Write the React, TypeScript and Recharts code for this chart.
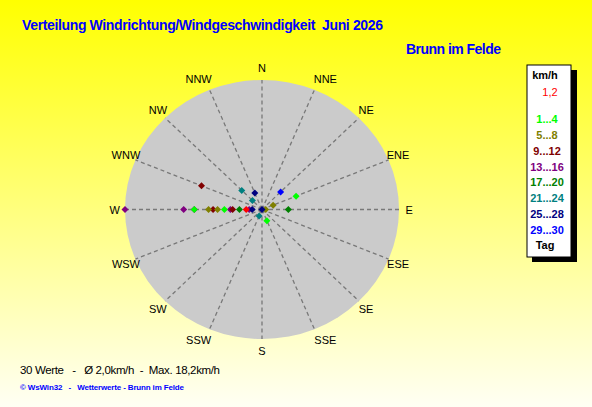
import { ScatterChart, Scatter, XAxis, YAxis, ReferenceArea, ReferenceLine, ReferenceDot } from "recharts";

const DIRS = ["N", "NNE", "NE", "ENE", "E", "ESE", "SE", "SSE", "S", "SSW", "SW", "WSW", "W", "WNW", "NW", "NNW"];
const SPEED_MAX = 18.2;

const LEGEND_LABELS = ["1,2", "1...4", "5...8", "9...12", "13...16", "17...20", "21...24", "25...28", "29...30"];
const LEGEND_COLORS = ["#ff0000", "#00ff00", "#808000", "#800000", "#800080", "#008000", "#008080", "#000080", "#0000ff"];

// direction + speed (km/h) per day group
const DIR_1_2 = ["W"];
const SPD_1_2 = [2.1];
const DIR_1_4 = ["ENE", "W", "W", "SSE"];
const SPD_1_4 = [4.9, 9.0, 5.0, 1.7];
const DIR_5_8 = ["ENE", "W", "W", "E"];
const SPD_5_8 = [1.6, 7.1, 5.9, 0.5];
const DIR_9_12 = ["WNW", "W", "W"];
const SPD_9_12 = [8.7, 6.5, 3.9];
const DIR_13_16 = ["W", "W", "W", "W", "W"];
const SPD_13_16 = [18.2, 10.4, 9.0, 4.2, 1.7];
const DIR_17_20 = ["W", "E"];
const SPD_17_20 = [3.0, 3.5];
const DIR_21_24 = ["NW", "NW", "SSW"];
const SPD_21_24 = [3.8, 1.8, 1.0];
const DIR_25_28 = ["NNW", "W", "N"];
const SPD_25_28 = [2.5, 1.3, 0];
const DIR_29_30 = ["NE"];
const SPD_29_30 = [3.5];

const GROUPS = [
  [DIR_13_16, SPD_13_16],
  [DIR_9_12, SPD_9_12],
  [DIR_5_8, SPD_5_8],
  [DIR_17_20, SPD_17_20],
  [DIR_21_24, SPD_21_24],
  [DIR_25_28, SPD_25_28],
  [DIR_29_30, SPD_29_30],
  [DIR_1_4, SPD_1_4],
  [DIR_1_2, SPD_1_2],
];
const GROUP_COLOR_IDX = [4, 3, 2, 5, 6, 7, 8, 1, 0];

const toXY = (dir: string, s: number) => {
  const a = (DIRS.indexOf(dir) * 22.5 * Math.PI) / 180;
  return { x: s * Math.sin(a), y: s * Math.cos(a) };
};

const Diamond = (color: string) => (p: any) => {
  const { cx, cy } = p;
  return <polygon points={`${cx},${cy - 3.5} ${cx + 3.5},${cy} ${cx},${cy + 3.5} ${cx - 3.5},${cy}`} fill={color} />;
};

const FONT = "'Liberation Sans', Arial, sans-serif";

export default function App() {
  return (
    <div style={{ position: "absolute", left: 0, top: 0, width: 592, height: 407, background: "linear-gradient(#ffff00, #fffff4)" }}>
      <ScatterChart width={592} height={407} margin={{ top: 80, right: 193, bottom: 68, left: 125 }}>
        <XAxis type="number" dataKey="x" domain={[-SPEED_MAX, SPEED_MAX]} hide />
        <YAxis type="number" dataKey="y" domain={[-SPEED_MAX, SPEED_MAX]} hide />
        <ReferenceArea
          x1={-SPEED_MAX}
          x2={SPEED_MAX}
          y1={-SPEED_MAX}
          y2={SPEED_MAX}
          shape={(p: any) => (
            <ellipse cx={p.x + p.width / 2} cy={p.y + p.height / 2} rx={p.width / 2} ry={p.height / 2} fill="#cbcbcb" />
          )}
        />
        {DIRS.map((d) => (
          <ReferenceLine
            key={"l" + d}
            segment={[{ x: 0, y: 0 }, toXY(d, SPEED_MAX)]}
            stroke="#787878"
            strokeWidth={1.3}
            strokeDasharray="4 3"
          />
        ))}
        {DIRS.map((d, i) => {
          const p = toXY(d, SPEED_MAX);
          const nudge = i % 8 === 1 || i % 8 === 7 ? Math.sign(p.x) * 7 : 0;
          return (
            <ReferenceDot
              key={"t" + d}
              x={p.x * 1.075}
              y={p.y * 1.09}
              r={0}
              ifOverflow="visible"
              shape={(s: any) => (
                <text x={s.cx + nudge} y={s.cy} textAnchor="middle" dominantBaseline="central" fontFamily={FONT} fontSize={11} fill="#000">
                  {d}
                </text>
              )}
            />
          );
        })}
        {GROUPS.map(([dirs, spds], i) => (
          <Scatter
            key={i}
            data={(dirs as string[]).map((d, j) => toXY(d, (spds as number[])[j]))}
            shape={Diamond(LEGEND_COLORS[GROUP_COLOR_IDX[i]])}
            isAnimationActive={false}
          />
        ))}
      </ScatterChart>
      <svg width={592} height={407} style={{ position: "absolute", left: 0, top: 0, pointerEvents: "none" }} fontFamily={FONT}>
        <text x={22} y={30} fontSize={14} fontWeight="bold" fill="#0000ff" textLength={361} xmlSpace="preserve">
          {"Verteilung Windrichtung/Windgeschwindigkeit  Juni 2026"}
        </text>
        <text x={406} y={54} fontSize={14} fontWeight="bold" fill="#0000ff" textLength={95}>
          Brunn im Felde
        </text>
        <text x={20} y={373.5} fontSize={11.5} fill="#000" textLength={200} xmlSpace="preserve">
          {"30 Werte   -   Ø 2,0km/h  -  Max. 18,2km/h"}
        </text>
        <text x={20} y={389.5} fontSize={8} fontWeight="bold" fill="#0000ff" textLength={164} xmlSpace="preserve">
          {"© WsWin32   -   Wetterwerte - Brunn im Felde"}
        </text>
        <rect x={532} y={70} width={45} height={192} fill="#000" />
        <rect x={527} y={65} width={44} height={192} fill="#fff" stroke="#000" />
        <text x={545} y={79} fontSize={11} fontWeight="bold" textAnchor="middle" fill="#000">
          km/h
        </text>
        <text x={550} y={95.7} fontSize={11} textAnchor="middle" fill={LEGEND_COLORS[0]}>
          {LEGEND_LABELS[0]}
        </text>
        {LEGEND_LABELS.slice(1).map((l, i) => (
          <text key={l} x={547} y={123.3 + i * 15.75} fontSize={11} fontWeight="bold" textAnchor="middle" fill={LEGEND_COLORS[i + 1]}>
            {l}
          </text>
        ))}
        <text x={545} y={123.3 + 8 * 15.75} fontSize={11} fontWeight="bold" textAnchor="middle" fill="#000">
          Tag
        </text>
      </svg>
    </div>
  );
}
